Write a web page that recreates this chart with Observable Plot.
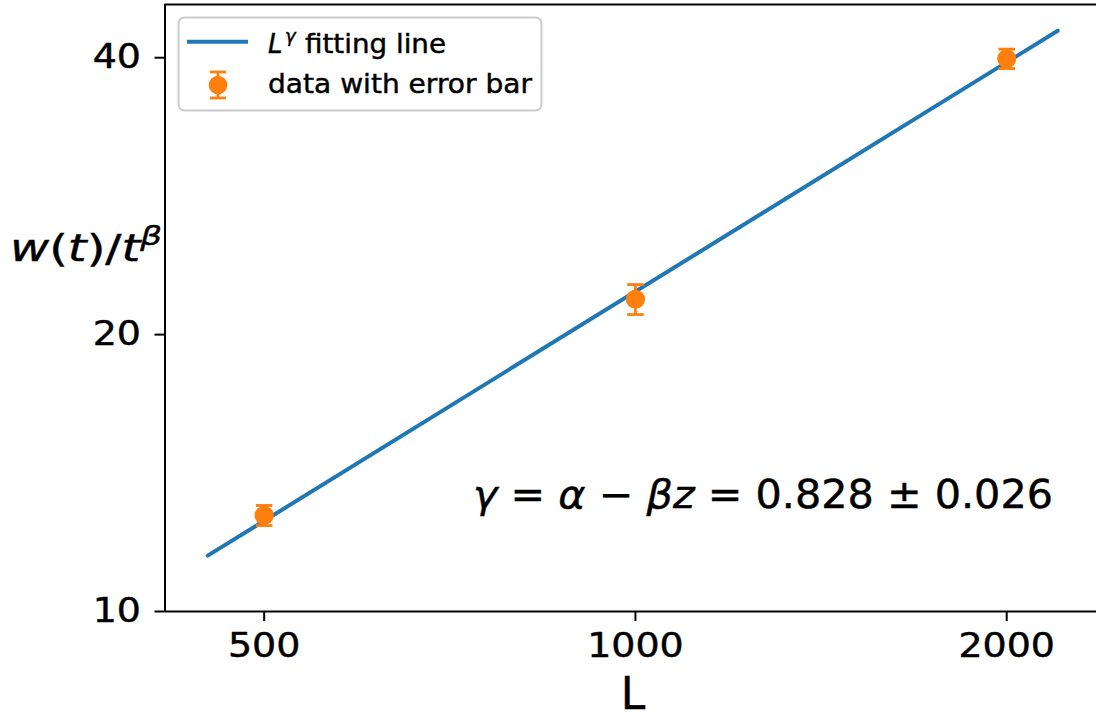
<!DOCTYPE html>
<html><head><meta charset="utf-8">
<script src="https://cdn.jsdelivr.net/npm/d3@7"></script>
<script src="https://cdn.jsdelivr.net/npm/@observablehq/plot@0.6"></script>
<style>body{margin:0;background:#fff;} #chart svg{font-family:"DejaVu Sans";} #chart svg text{stroke:black;stroke-width:0.45px;}</style>
</head><body><div id="chart"></div>
<script>
// ---- data ----
const L_VALUES = [500, 1000, 2000];
const W_VALUES = [12.72, 21.85, 39.9];
const W_ERRORS = [0.32, 0.82, 0.97];
const FIT_L = [450, 2200];
const FIT_W = [11.5, 42.8];
const X_TICKS = [500, 1000, 2000];
const Y_TICKS = [10, 20, 40];
const X_DOMAIN = [415.5, 2365];
const Y_DOMAIN = [10, 45.7];

const BLUE = "#1f77b4", ORANGE = "#ff7f0e";

const points = L_VALUES.map((L, i) => ({L, w: W_VALUES[i], lo: W_VALUES[i] - W_ERRORS[i], hi: W_VALUES[i] + W_ERRORS[i]}));
const fit = FIT_L.map((L, i) => ({L, w: FIT_W[i]}));

const capSymbol = {draw(ctx, size) { const r = Math.sqrt(size / Math.PI); ctx.moveTo(-r, 0); ctx.lineTo(r, 0); }};

const svg = Plot.plot({
  width: 1096, height: 719,
  marginLeft: 164.5, marginRight: 0, marginTop: 4, marginBottom: 108,
  style: {fontFamily: "DejaVu Sans", fontSize: "33px", color: "black", background: "white"},
  x: {type: "log", domain: X_DOMAIN},
  y: {type: "log", domain: Y_DOMAIN},
  marks: [
    Plot.line(fit, {x: "L", y: "w", stroke: BLUE, strokeWidth: 4}),
    Plot.ruleX(points, {x: "L", y1: "lo", y2: "hi", stroke: ORANGE, strokeWidth: 2.8}),
    Plot.dot(points, {x: "L", y: "lo", symbol: capSymbol, r: 8.3, stroke: ORANGE, strokeWidth: 2.8, fill: "none"}),
    Plot.dot(points, {x: "L", y: "hi", symbol: capSymbol, r: 8.3, stroke: ORANGE, strokeWidth: 2.8, fill: "none"}),
    Plot.dot(points, {x: "L", y: "w", r: 9.6, fill: ORANGE, stroke: "none"}),
    Plot.axisX({ticks: X_TICKS, tickFormat: d => String(d), tickSize: 10, tickPadding: 12, strokeWidth: 2, label: null}),
    Plot.axisY({ticks: Y_TICKS, tickFormat: d => String(d), tickSize: 10, tickPadding: 14, strokeWidth: 2, label: null}),
    Plot.ruleY([Y_DOMAIN[1]], {stroke: "black", strokeWidth: 2}),
    Plot.ruleY([Y_DOMAIN[0]], {stroke: "black", strokeWidth: 2}),
    Plot.ruleX([X_DOMAIN[0]], {stroke: "black", strokeWidth: 2})
  ]
});
document.getElementById("chart").appendChild(svg);

// widen tick labels slightly to match the reference's letterforms
d3.select(svg).selectAll("g[aria-label$='tick label'] text").each(function() {
  const w = this.getComputedTextLength();
  this.setAttribute("textLength", w * 1.15);
  this.setAttribute("lengthAdjust", "spacingAndGlyphs");
});

const s = d3.select(svg);
function richText(x, y, size, parts, length, anchor = "start") {
  const t = s.append("text").attr("x", x).attr("y", y).attr("font-size", size)
    .attr("font-family", "DejaVu Sans").attr("fill", "black").attr("text-anchor", anchor);
  for (const p of parts) {
    const ts = t.append("tspan").text(p.t);
    if (p.i) ts.attr("font-style", "italic");
    if (p.size) ts.attr("font-size", p.size);
    if (p.dy) ts.attr("dy", p.dy);
  }
  if (length) t.attr("textLength", length).attr("lengthAdjust", "spacingAndGlyphs");
  return t;
}

// y label
richText(10, 261, 38, [
  {t: "w", i: 1}, {t: "("}, {t: "t", i: 1}, {t: ")/"}, {t: "t", i: 1},
  {t: "β", i: 1, size: 27, dy: -16}
], 152);
// x label
richText(633, 709, 44, [{t: "L"}], null, "middle");
// annotation
richText(473, 508, 38.5, [
  {t: "γ", i: 1}, {t: " = "}, {t: "α", i: 1}, {t: " − "}, {t: "βz", i: 1}, {t: " = 0.828 ± 0.026"}
], 580);

// legend
const lg = s.append("g").attr("text-anchor", "start");
lg.append("rect").attr("x", 178.5).attr("y", 17.5).attr("width", 363).attr("height", 93).attr("rx", 6)
  .attr("fill", "white").attr("fill-opacity", 0.8).attr("stroke", "#cccccc").attr("stroke-width", 2);
lg.append("line").attr("x1", 187).attr("x2", 248).attr("y1", 41.7).attr("y2", 41.7).attr("stroke", BLUE).attr("stroke-width", 4);
lg.append("line").attr("x1", 218).attr("x2", 218).attr("y1", 72).attr("y2", 98).attr("stroke", ORANGE).attr("stroke-width", 2.8);
lg.append("line").attr("x1", 210).attr("x2", 226).attr("y1", 72).attr("y2", 72).attr("stroke", ORANGE).attr("stroke-width", 2.8);
lg.append("line").attr("x1", 210).attr("x2", 226).attr("y1", 98).attr("y2", 98).attr("stroke", ORANGE).attr("stroke-width", 2.8);
lg.append("circle").attr("cx", 218).attr("cy", 85).attr("r", 9.3).attr("fill", ORANGE);
// legend labels
lg.append("text").attr("x", 268).attr("y", 53).attr("font-size", 26).attr("font-style", "italic")
  .attr("text-anchor", "start").attr("font-family", "DejaVu Sans").text("L");
lg.append("text").attr("x", 285).attr("y", 42).attr("font-size", 18).attr("font-style", "italic")
  .attr("text-anchor", "start").attr("font-family", "DejaVu Sans").text("γ");
lg.append("text").attr("x", 305).attr("y", 53).attr("font-size", 26).attr("text-anchor", "start")
  .attr("font-family", "DejaVu Sans").attr("textLength", 141).attr("lengthAdjust", "spacingAndGlyphs").text("fitting line");
lg.append("text").attr("x", 268).attr("y", 93).attr("font-size", 26).attr("text-anchor", "start")
  .attr("font-family", "DejaVu Sans").attr("textLength", 264).attr("lengthAdjust", "spacingAndGlyphs").text("data with error bar");
</script></body></html>
